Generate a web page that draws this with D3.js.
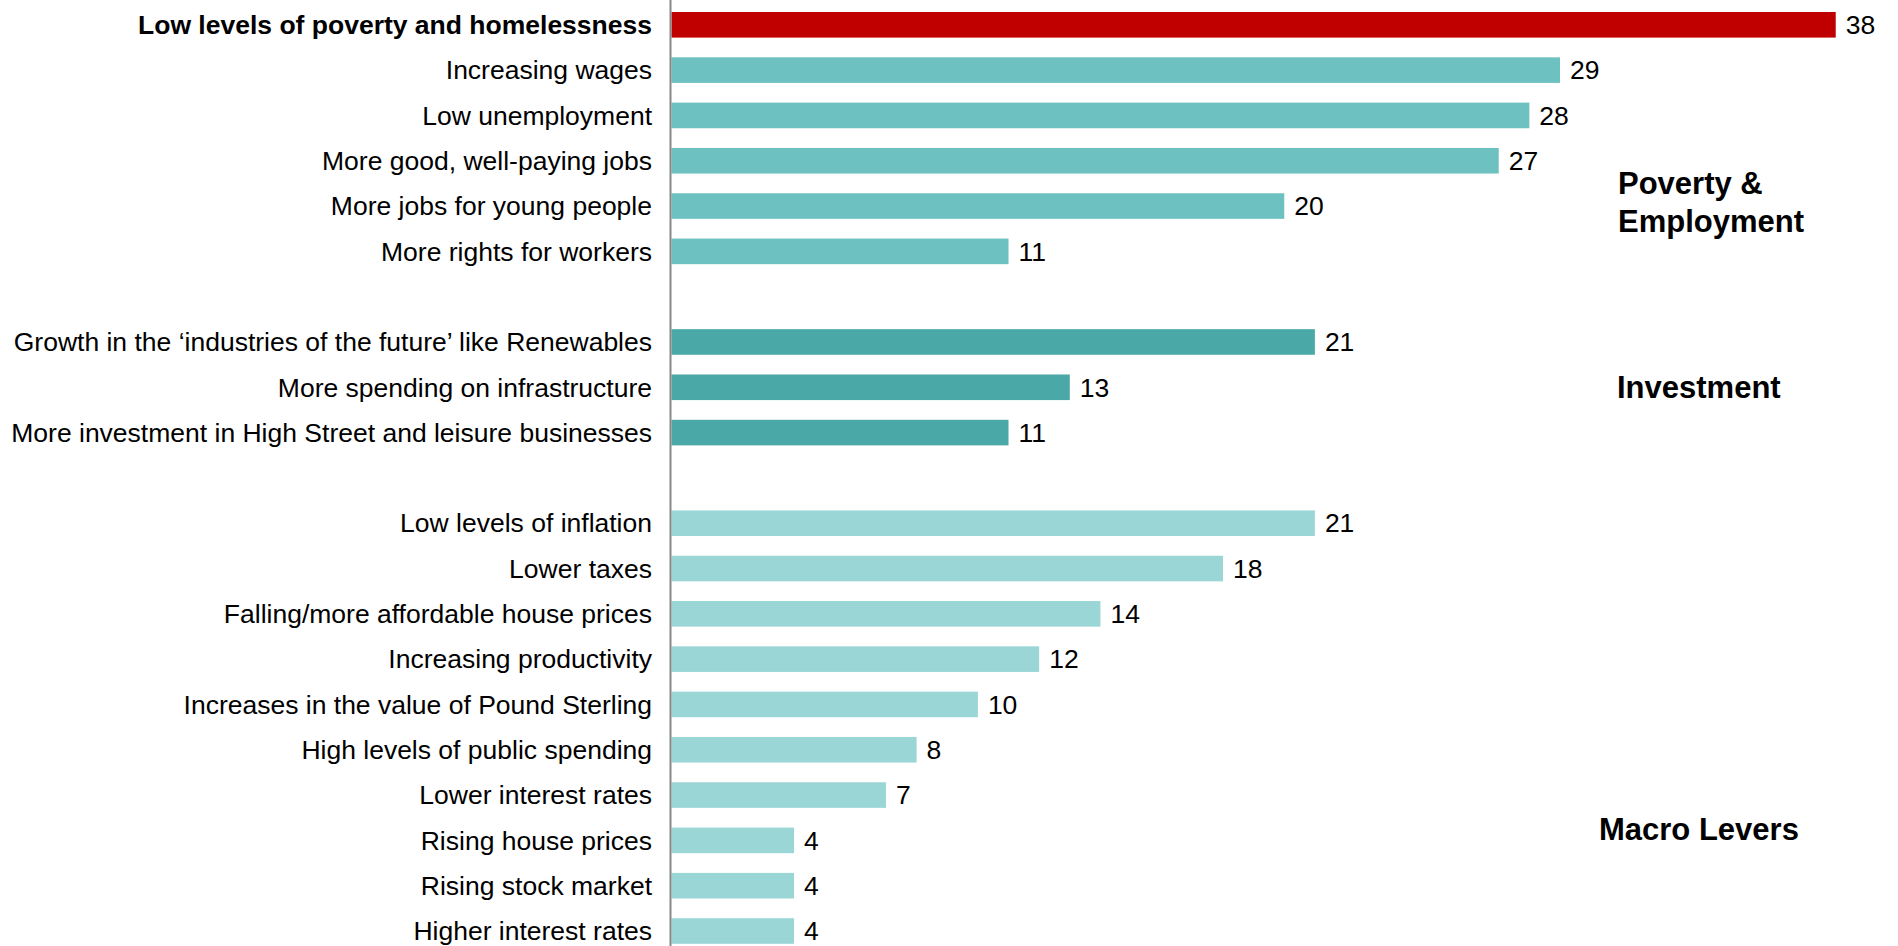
<!DOCTYPE html>
<html>
<head>
<meta charset="utf-8">
<script src="https://cdn.jsdelivr.net/npm/d3@7"></script>
<style>
  html, body { margin: 0; padding: 0; background: #ffffff; }
  svg { display: block; }
  text { font-family: "Liberation Sans", Arial, Helvetica, sans-serif; }
</style>
</head>
<body>
<svg id="chart" width="1898" height="946"></svg>
<script>
// Survey items, grouped by theme (blank slots separate the groups)
const povertyItems = [
  "Low levels of poverty and homelessness",
  "Increasing wages",
  "Low unemployment",
  "More good, well-paying jobs",
  "More jobs for young people",
  "More rights for workers"
];
const povertyValues = [38, 29, 28, 27, 20, 11];

const investmentItems = [
  "Growth in the \u2018industries of the future\u2019 like Renewables",
  "More spending on infrastructure",
  "More investment in High Street and leisure businesses"
];
const investmentValues = [21, 13, 11];

const macroItems = [
  "Low levels of inflation",
  "Lower taxes",
  "Falling/more affordable house prices",
  "Increasing productivity",
  "Increases in the value of Pound Sterling",
  "High levels of public spending",
  "Lower interest rates",
  "Rising house prices",
  "Rising stock market",
  "Higher interest rates"
];
const macroValues = [21, 18, 14, 12, 10, 8, 7, 4, 4, 4];

const groupNames = ["Poverty & Employment", "Investment", "Macro Levers"];
const groupColors = ["#6dc1c0", "#4aa8a7", "#9bd6d6"];
const highlightColor = "#c00000";

// Build the row list: each group followed by an empty spacer slot
const rows = [];
const addGroup = (items, values, g) => {
  items.forEach((label, i) => rows.push({ key: label, label, value: values[i], group: g }));
};
addGroup(povertyItems, povertyValues, 0);
rows.push({ key: "gap-1", label: null });
addGroup(investmentItems, investmentValues, 1);
rows.push({ key: "gap-2", label: null });
addGroup(macroItems, macroValues, 2);

const svg = d3.select("#chart");
const axisX = 670.5;
const labelSize = 26.5;

const x = d3.scaleLinear().domain([0, 40]).range([671.5, 1897]);
const y = d3.scaleBand()
  .domain(rows.map(d => d.key))
  .range([2.15, 953.65])
  .paddingInner(0.435)
  .paddingOuter(0.2175);

const bars = rows.filter(d => d.label !== null);

// Bars
svg.append("g").selectAll("rect")
  .data(bars)
  .join("rect")
  .attr("x", x(0))
  .attr("y", d => y(d.key))
  .attr("width", d => x(d.value) - x(0))
  .attr("height", y.bandwidth())
  .attr("fill", (d, i) => i === 0 ? highlightColor : groupColors[d.group]);

// Vertical baseline
svg.append("line")
  .attr("x1", axisX).attr("x2", axisX)
  .attr("y1", 0).attr("y2", 946)
  .attr("stroke", "#888888")
  .attr("stroke-width", 2);

// Category labels
svg.append("g").selectAll("text")
  .data(bars)
  .join("text")
  .attr("x", 652)
  .attr("y", d => y(d.key) + y.bandwidth() / 2)
  .attr("dy", "0.35em")
  .attr("text-anchor", "end")
  .attr("font-size", labelSize)
  .attr("font-weight", (d, i) => i === 0 ? "bold" : "normal")
  .attr("fill", "#000")
  .text(d => d.label);

// Value labels
svg.append("g").selectAll("text")
  .data(bars)
  .join("text")
  .attr("x", d => x(d.value) + 10)
  .attr("y", d => y(d.key) + y.bandwidth() / 2)
  .attr("dy", "0.35em")
  .attr("font-size", labelSize)
  .attr("fill", "#000")
  .text(d => d3.format("d")(d.value));

// Group headings
const headings = [
  { lines: ["Poverty &", "Employment"], x: 1618, y: 194 },
  { lines: ["Investment"], x: 1617, y: 398 },
  { lines: ["Macro Levers"], x: 1599, y: 840 }
];
headings.forEach(h => {
  const t = svg.append("text")
    .attr("x", h.x)
    .attr("y", h.y)
    .attr("font-size", 31)
    .attr("font-weight", "bold")
    .attr("fill", "#000");
  h.lines.forEach((line, li) => {
    t.append("tspan")
      .attr("x", h.x)
      .attr("dy", li === 0 ? 0 : 38)
      .text(line);
  });
});
</script>
</body>
</html>
